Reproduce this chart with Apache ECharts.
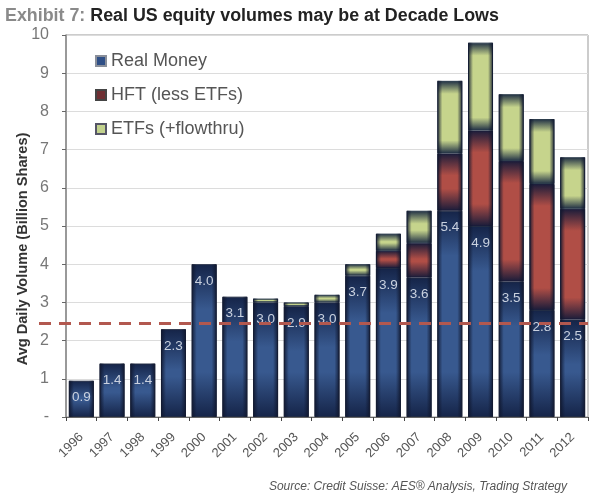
<!DOCTYPE html>
<html><head><meta charset="utf-8">
<style>html,body{margin:0;padding:0;background:#fff}#c{width:600px;height:495px;filter:blur(0.6px)}</style>
<script src="https://cdn.jsdelivr.net/npm/echarts@6/dist/echarts.min.js"></script>
</head><body><div id="c"></div>
<script>
const years=['1996','1997','1998','1999','2000','2001','2002','2003','2004','2005','2006','2007','2008','2009','2010','2011','2012'];
const realMoney=[0.95,1.4,1.4,2.3,4.0,3.15,3.0,2.9,3.0,3.7,3.9,3.65,5.4,5.0,3.55,2.8,2.55];
const realLabels=['0.9','1.4','1.4','2.3','4.0','3.1','3.0','2.9','3.0','3.7','3.9','3.6','5.4','4.9','3.5','2.8','2.5'];
const hft=[0,0,0,0,0,0,0,0,0,0,0.45,0.9,1.5,2.5,3.15,3.3,2.9];
const etfs=[0,0,0,0,0,0,0.1,0.1,0.2,0.3,0.45,0.85,1.9,2.3,1.75,1.7,1.35];
const decadeLow=2.45;
const yTicks=['-','1','2','3','4','5','6','7','8','9','10'];

const pxPerUnit=38.2;
function grad(dark,light,v,rimPx){
  const r=Math.min(0.46,rimPx/(Math.max(v,0.01)*pxPerUnit));
  return {type:'linear',x:0,y:0,x2:0,y2:1,colorStops:[
    {offset:0,color:dark},{offset:r,color:light},{offset:1-r,color:light},{offset:1,color:dark}]};
}
function items(arr,dark,light,rimPx,border){
  return arr.map(v=>({value:v,itemStyle:{color:grad(dark,light,v,rimPx),borderColor:border,borderWidth:v>0?1:0}}));
}
const totals=years.map((_,i)=>+(realMoney[i]+hft[i]+etfs[i]).toFixed(2));
const barW=25;
const chart=echarts.init(document.getElementById('c'),null,{renderer:'canvas'});
chart.setOption({
  animation:false,backgroundColor:'#fff',
  textStyle:{fontFamily:'Liberation Sans'},
  title:{left:0,top:2,text:'{g|Exhibit 7:} {b|Real US equity volumes may be at Decade Lows}',
    textStyle:{rich:{g:{fontSize:17.85,fontWeight:'bold',color:'#8a8a8a',fontFamily:'Liberation Sans'},
                     b:{fontSize:17.85,fontWeight:'bold',color:'#222',fontFamily:'Liberation Sans'}}}},
  legend:{orient:'vertical',left:90,top:47,itemWidth:10,itemHeight:10,itemGap:16,icon:'rect',
    data:['Real Money','HFT (less ETFs)','ETFs (+flowthru)'],
    textStyle:{fontSize:18,color:'#555',fontFamily:'Liberation Sans'}},
  grid:[{left:66,right:12,top:35,bottom:78,show:true,borderColor:'#999',borderWidth:1,outerBoundsMode:'none'},
        {left:39,right:12,top:35,bottom:78,show:false,outerBoundsMode:'none'}],
  xAxis:[{type:'category',data:years,gridIndex:0,
      axisLine:{lineStyle:{color:'#666',width:1}},
      axisTick:{show:true,alignWithLabel:false,length:4,lineStyle:{color:'#444'}},
      axisLabel:{rotate:45,fontSize:13,color:'#555',margin:18,interval:0}},
    {type:'value',gridIndex:1,min:0,max:1,show:false}],
  yAxis:[{type:'value',gridIndex:0,min:0,max:10,interval:1,
      name:'Avg Daily Volume (Billion Shares)',nameLocation:'middle',nameGap:36,nameMoveOverlap:false,
      nameTextStyle:{fontSize:14.6,fontWeight:'bold',color:'#333',padding:[0,46,0,0]},
      axisLine:{show:true,lineStyle:{color:'#888',width:1.5}},
      axisTick:{show:true,length:4,lineStyle:{color:'#666'}},
      axisLabel:{fontSize:16,color:'#777',margin:17,formatter:v=>yTicks[Math.round(v)]},
      splitLine:{lineStyle:{color:'#dcdcdc',width:1}}},
    {type:'value',gridIndex:1,min:0,max:10,show:false}],
  series:[
    {name:'Real Money',type:'bar',stack:'v',barWidth:barW,barGap:'-100%',xAxisIndex:0,yAxisIndex:0,
      itemStyle:{color:'#2f4f86',borderColor:'#8a8f9a',borderWidth:0.5},
      data:items(realMoney,'#152448','#38598f',45,'#222c44'),
      label:{show:true,position:'insideTop',distance:10,fontSize:13.5,color:'#c9d1df',
        formatter:p=>realLabels[p.dataIndex]}},
    {name:'HFT (less ETFs)',type:'bar',stack:'v',barWidth:barW,xAxisIndex:0,yAxisIndex:0,
      itemStyle:{color:'#6e2f33',borderColor:'#444',borderWidth:0.5},
      data:items(hft,'#1a1c3a','#b04e46',22,'#1a1c3a')},
    {name:'ETFs (+flowthru)',type:'bar',stack:'v',barWidth:barW,xAxisIndex:0,yAxisIndex:0,
      itemStyle:{color:'#c2d28e',borderColor:'#556',borderWidth:0.5},
      data:items(etfs,'#1e2e44','#c6d48c',13,'#2a3a4a')},
    {name:'edge',type:'bar',barWidth:barW,barGap:'-100%',xAxisIndex:0,yAxisIndex:0,silent:true,
      itemStyle:{color:{type:'linear',x:0,y:0,x2:1,y2:0,colorStops:[
        {offset:0,color:'rgba(15,22,45,0.9)'},{offset:0.2,color:'rgba(15,22,45,0)'},
        {offset:0.8,color:'rgba(15,22,45,0)'},{offset:1,color:'rgba(15,22,45,0.9)'}]}},
      data:totals},
    {name:'Decade low',type:'line',xAxisIndex:1,yAxisIndex:1,symbol:'none',z:10,
      lineStyle:{color:'#b2584f',width:3,type:[12,8]},
      data:[[0,decadeLow],[1,decadeLow]]}
  ],
  graphic:[{type:'text',right:33,top:481,style:{text:'Source: Credit Suisse: AES\u00AE Analysis, Trading Strategy',
    font:'italic 12px "Liberation Sans"',fill:'#555'}}]
});
</script></body></html>
